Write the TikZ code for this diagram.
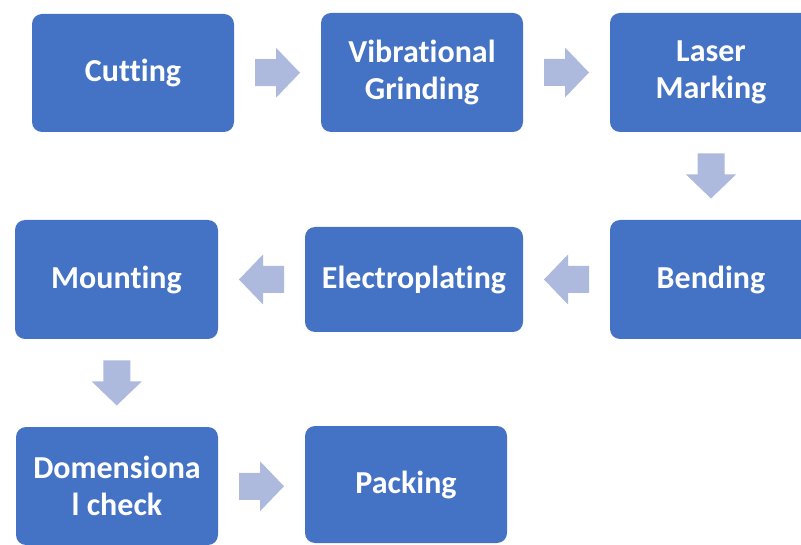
\documentclass[tikz,border=0pt]{standalone}
\usepackage{fontspec}
\setmainfont{Carlito}[Ligatures={NoCommon}]
\usetikzlibrary{calc}
\definecolor{boxblue}{HTML}{4472C4}
\definecolor{arrowblue}{HTML}{AEBADD}
\tikzset{
  stepbox/.style={fill=boxblue, draw=none, rounded corners=10pt, text=white,
    font=\fontsize{32}{37}\selectfont\bfseries, align=center, inner sep=0pt},
  barrow/.pic={\fill[arrowblue] (-22.5,-13.5) -- (-1.5,-13.5) -- (-1.5,-25) -- (22.5,0)
     -- (-1.5,25) -- (-1.5,13.5) -- (-22.5,13.5) -- cycle;}
}
\begin{document}
\begin{tikzpicture}[x=1pt,y=-1pt]
\useasboundingbox (0,0) rectangle (801,545);
\clip (0,0) rectangle (801,545);
\node[stepbox, minimum width=202pt, minimum height=118pt] (cut) at (133,73) {Cutting};
\node[stepbox, minimum width=202pt, minimum height=119pt] (vib) at (422,72.5) {Vibrational\\Grinding};
\node[stepbox, minimum width=202pt, minimum height=119pt] (laser) at (711,72.5) {Laser\\Marking};
\node[stepbox, minimum width=202pt, minimum height=119pt] (bend) at (711,279.5) {Bending};
\node[stepbox, minimum width=218pt, minimum height=105pt] (elec) at (414,279.5) {Electroplating};
\node[stepbox, minimum width=203pt, minimum height=119pt] (mount) at (116.5,279.5) {Mounting};
\node[stepbox, minimum width=202pt, minimum height=118pt] (dom) at (117,486) {Domensiona\\l check};
\node[stepbox, minimum width=202pt, minimum height=117pt] (pack) at (406,484.5) {Packing};
\pic at ($(cut.east)!0.5!(vib.west)$) {barrow};
\pic at ($(vib.east)!0.5!(laser.west)$) {barrow};
\pic[rotate=-90] at ($(laser.south)!0.5!(bend.north)$) {barrow};
\pic[rotate=180] at ($(bend.west)!0.5!(elec.east)$) {barrow};
\pic[rotate=180] at ($(elec.west)!0.5!(mount.east)$) {barrow};
\pic[rotate=-90] at ($(mount.south)!0.5!(dom.north)$) {barrow};
\pic at ($(dom.east)!0.5!(pack.west)+(0,1)$) {barrow};
\end{tikzpicture}
\end{document}
